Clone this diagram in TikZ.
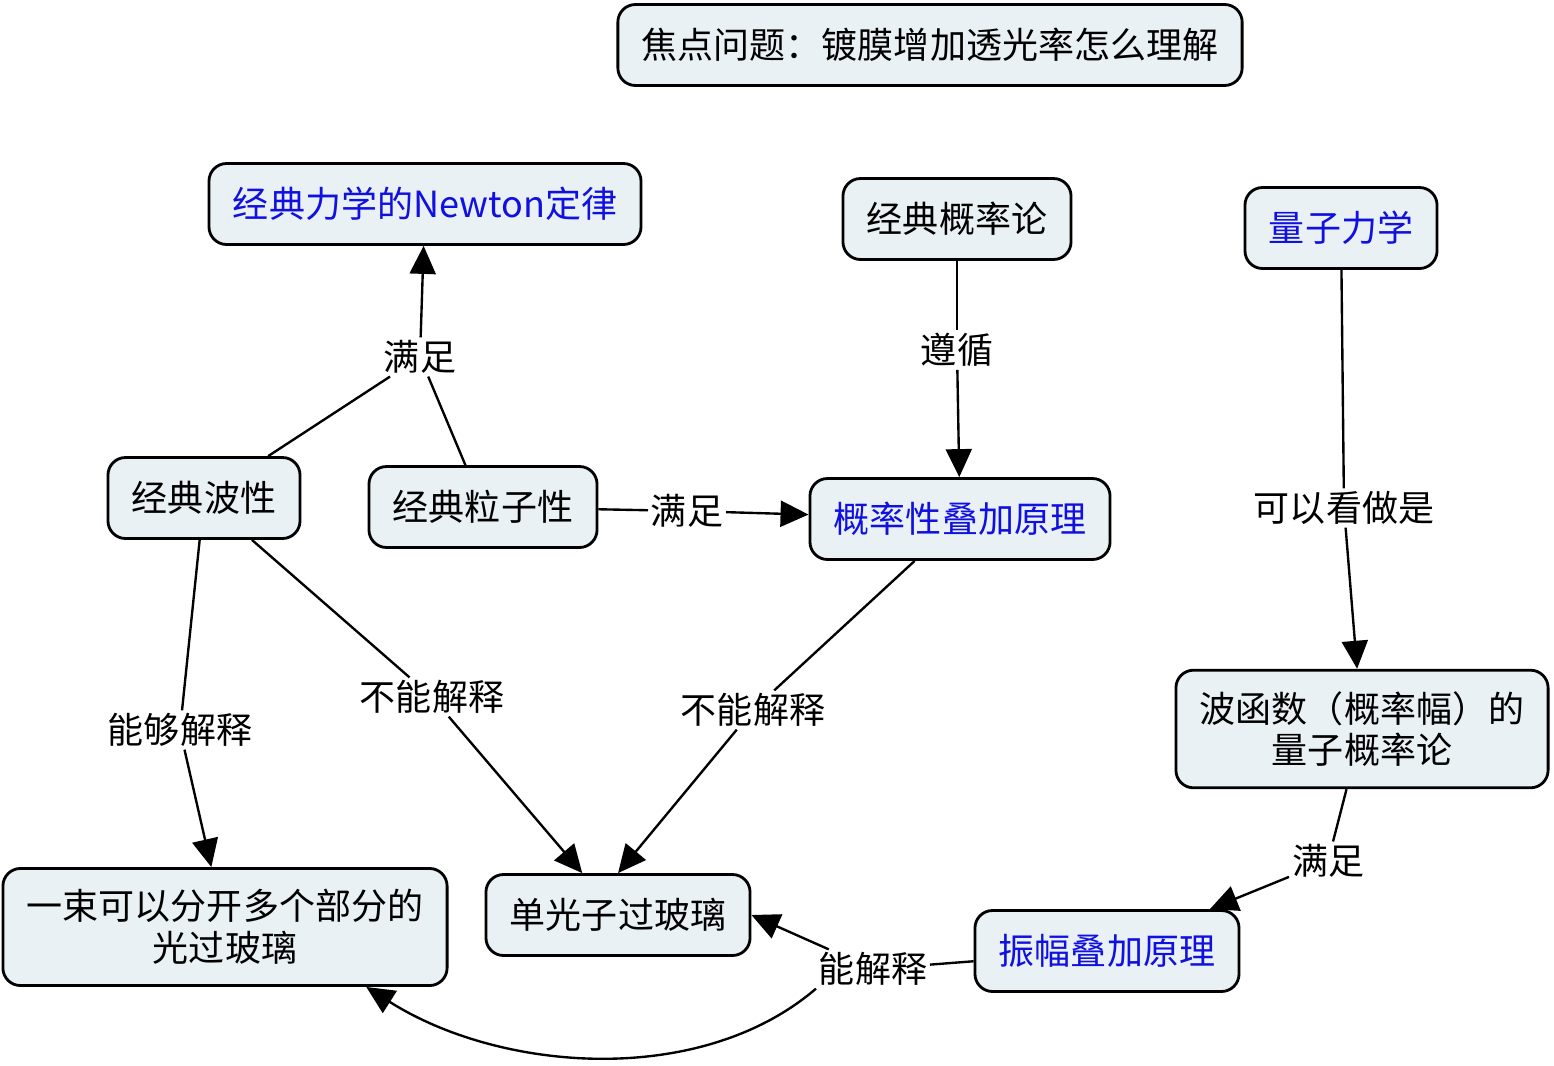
\documentclass[tikz,border=0pt]{standalone}
\usepackage{fontspec}
\setmainfont{Noto Sans CJK SC}
\usetikzlibrary{arrows.meta}
\definecolor{Panel}{HTML}{EAF1F4}
\definecolor{Ink}{HTML}{1010E0}

\begin{document}
\begin{tikzpicture}[x=0.02cm,y=-0.02cm,
          concept/.style={draw=black,fill=Panel,rounded corners=10pt,line width=1.6pt,
            minimum height=1.62cm,inner xsep=0.48cm,inner ysep=0.42cm,
            font=\fontsize{20.5}{23.8}\selectfont,align=center},
          key/.style={concept,text=Ink},
          link/.style={fill=white,inner sep=1.5pt,font=\fontsize{20.5}{23.8}\selectfont},
          tie/.style={draw=black,line width=1.35pt},
          flow/.style={tie,-{Triangle[length=0.56cm,width=0.52cm]}}]
        \useasboundingbox (0,0) rectangle (1554,1065);
        % concepts
        \node[concept] (focus) at (930,45) {焦点问题：镀膜增加透光率怎么理解};
        \node[key] (newton) at (425,204) {经典力学的Newton定律};
        \node[concept] (cprob) at (957,219) {经典概率论};
        \node[key] (qm) at (1341,228) {量子力学};
        \node[concept] (wave) at (204,498) {经典波性};
        \node[concept] (particle) at (483,507) {经典粒子性};
        \node[key] (psup) at (960,519) {概率性叠加原理};
        \node[concept] (wavefn) at (1362,729) {波函数（概率幅）的\\量子概率论};
        \node[concept] (beam) at (225,927) {一束可以分开多个部分的\\光过玻璃};
        \node[concept] (single) at (618,915) {单光子过玻璃};
        \node[key] (asup) at (1107,951) {振幅叠加原理};
        % link words
        \node[link] (satA) at (420,357) {满足};
        \node[link] (obey) at (957,350) {遵循};
        \node[link] (satB) at (687,511) {满足};
        \node[link] (regard) at (1344,508) {可以看做是};
        \node[link] (canA) at (180,730) {能够解释};
        \node[link] (notA) at (432,697) {不能解释};
        \node[link] (notB) at (753,710) {不能解释};
        \node[link] (satC) at (1328,861) {满足};
        \node[link] (canB) at (873,969) {能解释};
        % connectors
        \draw[tie] (wave)--(satA);
        \draw[tie] (particle)--(satA);
        \draw[flow] (satA)--(newton);
        \draw[tie] (cprob)--(obey);
        \draw[flow] (obey)--(psup);
        \draw[tie] (particle)--(satB);
        \draw[flow] (satB)--(psup);
        \draw[tie] (qm)--(regard);
        \draw[flow] (regard)--(wavefn);
        \draw[tie] (wave)--(canA);
        \draw[flow] (canA)--(beam);
        \draw[tie] (wave)--(notA);
        \draw[flow] (notA)--(single);
        \draw[tie] (psup)--(notB);
        \draw[flow] (notB)--(single.north);
        \draw[tie] (wavefn)--(satC);
        \draw[flow] (satC)--(asup);
        \draw[tie] (asup)--(canB);
        \draw[flow] (canB)--(single.east);
        \draw[flow] (canB.south west) .. controls (700,1088) and (500,1072) .. (beam.-23);
      \end{tikzpicture}
\end{document}
